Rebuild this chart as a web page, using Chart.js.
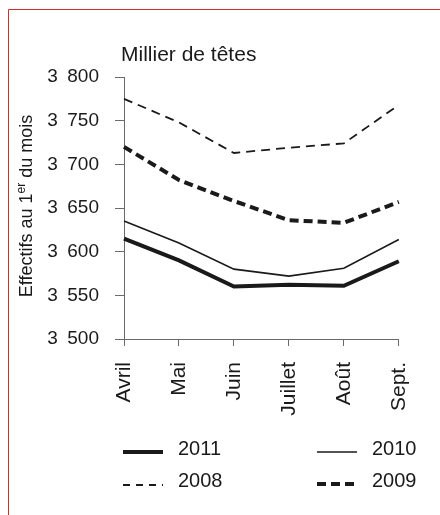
<!DOCTYPE html>
<html><head><meta charset="utf-8">
<script src="https://cdn.jsdelivr.net/npm/chart.js@4/dist/chart.umd.min.js"></script>
<style>html,body{margin:0;padding:0;background:#fff}#wrap{width:440px;height:515px;position:relative}</style>
</head><body><div id="wrap"><canvas id="c" width="440" height="515"></canvas></div>
<script>
const months = ['Avril','Mai','Juin','Juillet','Août','Sept.'];
const years = ['2008','2009','2010','2011'];
const v2008 = [3775,3748,3713,3719,3724,3768];
const v2009 = [3720,3682,3658,3636,3633,3657];
const v2010 = [3635,3610,3580,3572,3581,3614];
const v2011 = [3615,3590,3560,3562,3561,3589];
const yTickValues = [3500,3550,3600,3650,3700,3750,3800];
const yTickLabels = ['3\u2002500','3\u2002550','3\u2002600','3\u2002650','3\u2002700','3\u2002750','3\u2002800'];
const unitLabel = 'Millier de têtes';
const axisTitleParts = ['Effectifs au 1','er',' du mois'];
const legendOrder = ['2011','2010','2008','2009'];

const FONT = '"Liberation Sans", Arial, Helvetica, sans-serif';
const INK = '#1a1a1a';

const decor = {
  id:'decor',
  beforeDraw(chart){
    const ctx = chart.ctx;
    ctx.save();
    ctx.strokeStyle = '#d42e25';
    ctx.lineWidth = 1;
    ctx.beginPath();
    ctx.moveTo(8.5, 515); ctx.lineTo(8.5, 9.5); ctx.lineTo(440, 9.5);
    ctx.stroke();
    ctx.restore();
  },
  afterDraw(chart){
    const ctx = chart.ctx;
    const area = chart.chartArea;
    ctx.save();
    ctx.fillStyle = INK;
    // unit label
    ctx.font = '21px ' + FONT;
    ctx.textAlign = 'left';
    ctx.textBaseline = 'alphabetic';
    ctx.fillText(unitLabel, area.left - 3, 61);
    // rotated axis title with superscript
    const big = '18px ' + FONT, small = '12px ' + FONT;
    ctx.font = big; const w0 = ctx.measureText(axisTitleParts[0]).width;
    ctx.font = small; const w1 = ctx.measureText(axisTitleParts[1]).width;
    ctx.font = big; const w2 = ctx.measureText(axisTitleParts[2]).width;
    const total = w0 + w1 + w2;
    const cy = (area.top + area.bottom) / 2 - 2;
    ctx.translate(32, cy);
    ctx.rotate(-Math.PI / 2);
    let x = -total / 2;
    ctx.textBaseline = 'alphabetic';
    ctx.font = big; ctx.fillText(axisTitleParts[0], x, 0); x += w0;
    ctx.font = small; ctx.fillText(axisTitleParts[1], x, -7); x += w1;
    ctx.font = big; ctx.fillText(axisTitleParts[2], x, 0);
    ctx.restore();

    // legend
    const slots = [[123, 452, 449],[317, 452, 449],[123, 485, 481],[317, 484, 481]];
    ctx.save();
    legendOrder.forEach((name, i) => {
      const ds = chart.data.datasets.find(d => d.label === name);
      const [lx, ly, ty] = slots[i];
      ctx.strokeStyle = ds.borderColor;
      ctx.lineWidth = ds.borderWidth;
      ctx.setLineDash(ds.legendDash || []);
      ctx.beginPath();
      ctx.moveTo(lx, ly); ctx.lineTo(lx + 40, ly);
      ctx.stroke();
      ctx.setLineDash([]);
      ctx.fillStyle = INK;
      ctx.font = '20px ' + FONT;
      ctx.textAlign = 'left';
      ctx.textBaseline = 'middle';
      ctx.fillText(name, lx + 55, ty);
    });
    ctx.restore();
  }
};

const styles = {
  '2008': {borderWidth: 1.8, borderDash: [9, 6], legendDash: [7, 6]},
  '2009': {borderWidth: 4, borderDash: [9, 5], legendDash: [9, 5]},
  '2010': {borderWidth: 1.6, borderDash: []},
  '2011': {borderWidth: 4, borderDash: []}
};
const series = {'2008': v2008, '2009': v2009, '2010': v2010, '2011': v2011};

new Chart(document.getElementById('c'), {
  type: 'line',
  data: {
    labels: months,
    datasets: years.map(y => Object.assign({
      label: y,
      data: series[y],
      borderColor: INK,
      backgroundColor: INK,
      fill: false,
      tension: 0,
      pointRadius: 0,
      borderCapStyle: 'butt'
    }, styles[y]))
  },
  options: {
    responsive: false,
    animation: false,
    events: [],
    layout: {padding: {top: 77, right: 12, left: 0, bottom: 0}},
    plugins: {legend: {display: false}, tooltip: {enabled: false}, title: {display: false}},
    scales: {
      x: {
        offset: false,
        grid: {drawOnChartArea: false, drawTicks: true, tickLength: 7, color: '#6a6a6a', lineWidth: 1},
        border: {display: true, color: '#6a6a6a', width: 1},
        ticks: {minRotation: 90, maxRotation: 90, padding: 16, color: INK, font: {family: FONT, size: 21}},
        afterFit(s){ s.height = 176; }
      },
      y: {
        min: 3500, max: 3800,
        grid: {drawOnChartArea: false, drawTicks: true, tickLength: 9, color: '#6a6a6a', lineWidth: 1},
        border: {display: true, color: '#6a6a6a', width: 1},
        ticks: {
          stepSize: 50, padding: 16, color: INK, font: {family: FONT, size: 19},
          callback: (v) => { const i = yTickValues.indexOf(v); return i >= 0 ? yTickLabels[i] : ''; }
        },
        afterFit(s){ s.width = 124; }
      }
    }
  },
  plugins: [decor]
});
</script>
</body></html>
